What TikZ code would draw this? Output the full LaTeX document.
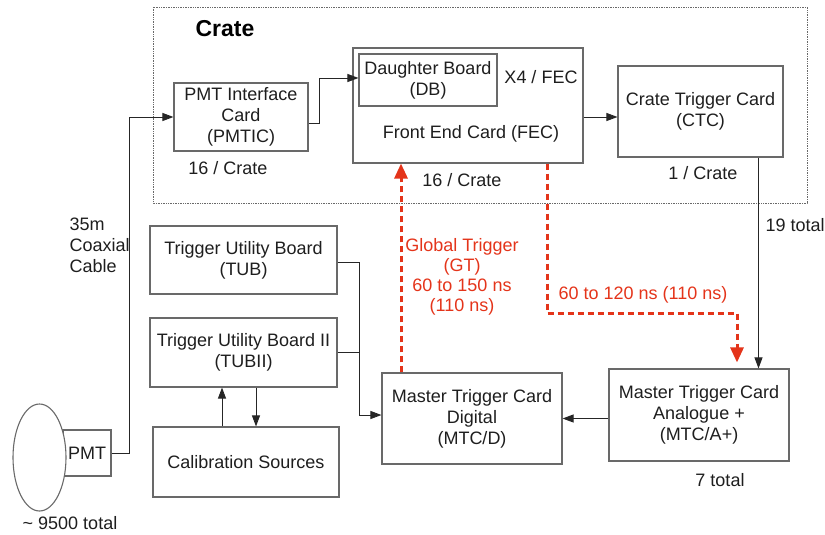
\documentclass[tikz,border=0pt]{standalone}
\usepackage{fontspec}
\setmainfont{Liberation Sans}
\usepackage{tikz}
\usetikzlibrary{arrows.meta,shapes.geometric}

\definecolor{trigred}{RGB}{228,52,26}
\definecolor{boxgray}{RGB}{105,105,105}
\definecolor{inkgray}{RGB}{30,30,30}

\begin{document}
\begin{tikzpicture}[x=1pt,y=-1pt,
    every node/.style={font=\fontsize{18}{21}\selectfont, text=inkgray},
    card/.style={draw=boxgray, line width=1.1pt, align=center, inner sep=0pt},
    wire/.style={draw=black!85, line width=0.9pt, -{Triangle[width=8pt,length=11pt]}},
    trigwire/.style={draw=trigred, line width=3pt, dash pattern=on 6pt off 4pt,
                     -{Triangle[width=13pt,length=15pt]}},
    trigtext/.style={text=trigred, align=center}]

  \useasboundingbox (0,0) rectangle (825,535);

  %%%%%%%%%%%%%%%%%%%%%%%%%%%%%%%%%%%%%%%%%%%%%%%%%%%%%%%%%%%%%%%%%%%%%%%%%%%%
  %% The crate and its cards
  %%%%%%%%%%%%%%%%%%%%%%%%%%%%%%%%%%%%%%%%%%%%%%%%%%%%%%%%%%%%%%%%%%%%%%%%%%%%

  % Dotted outline of the crate
  \draw [boxgray, densely dotted, line width=0.7pt] (153,7) rectangle (807,203);
  \node [font=\fontsize{23}{26}\bfseries, text=black] (cratelabel) at (225,29) {Crate};

  \node [card, minimum width=134, minimum height=68] (pmtic) at (241,117)
    {PMT Interface\\Card\\(PMTIC)};
  \node [card, minimum width=230, minimum height=115] (fec) at (468,105.5) {};
  \node [card, minimum width=138, minimum height=52] (db) at (428,80)
    {Daughter Board\\(DB)};
  \node (fectext) at (471,134) {Front End Card (FEC)};
  \node [card, minimum width=165, minimum height=91] (ctc) at (700.5,111.5)
    {Crate Trigger Card\\(CTC)};

  %%%%%%%%%%%%%%%%%%%%%%%%%%%%%%%%%%%%%%%%%%%%%%%%%%%%%%%%%%%%%%%%%%%%%%%%%%%%
  %% Trigger cards and utility boards
  %%%%%%%%%%%%%%%%%%%%%%%%%%%%%%%%%%%%%%%%%%%%%%%%%%%%%%%%%%%%%%%%%%%%%%%%%%%%

  \node [card, minimum width=180, minimum height=92] (mtca) at (699,415)
    {Master Trigger Card\\Analogue +\\(MTC/A+)};
  \node [card, minimum width=180, minimum height=91] (mtcd) at (472,418.5)
    {Master Trigger Card\\Digital\\(MTC/D)};
  \node [card, minimum width=187, minimum height=68] (tub) at (243.5,260)
    {Trigger Utility Board\\(TUB)};
  \node [card, minimum width=187, minimum height=69] (tubii) at (243.5,352.5)
    {Trigger Utility Board II\\(TUBII)};
  \node [card, minimum width=186, minimum height=70] (cal) at (246,462)
    {Calibration Sources};

  % The PMT: box first, the white bulb covers its left edge
  \node [card, minimum width=48, minimum height=46] (pmt) at (87,453) {PMT};
  \node [ellipse, draw=boxgray, line width=1.1pt, fill=white, inner sep=0pt,
         minimum width=53, minimum height=107] (pmtbulb) at (39.5,457.5) {};

  % Counts written beside the cards
  \foreach \name/\pos/\txt in {pmticcount/{(228,168)}/{16 / Crate},
                               feccount/{(462,180)}/{16 / Crate},
                               ctccount/{(703,173)}/{1 / Crate},
                               dbcount/{(541,77)}/{X4 / FEC},
                               mtcacount/{(720,480)}/{7 total},
                               pmtcount/{(70,523)}/{\textasciitilde{} 9500 total}}
    \node (\name) at \pos {\txt};
  \node [anchor=west] (ctctotal) at (762,225) {19 total};
  \node [anchor=west, align=left] (coaxlabel) at (66,245.5) {35m\\Coaxial\\Cable};

  %%%%%%%%%%%%%%%%%%%%%%%%%%%%%%%%%%%%%%%%%%%%%%%%%%%%%%%%%%%%%%%%%%%%%%%%%%%%
  %% Connections
  %%%%%%%%%%%%%%%%%%%%%%%%%%%%%%%%%%%%%%%%%%%%%%%%%%%%%%%%%%%%%%%%%%%%%%%%%%%%

  \draw [wire] (pmt.east) -- ++(18,0) |- (pmtic.west);
  \draw [wire] ([yshift=-6pt]pmtic.east) -- ++(11,0) |- ([yshift=2pt]db.west);
  \draw [wire] ([yshift=-11.5pt]fec.east) -- ([yshift=-5.5pt]ctc.west);
  \draw [wire] ([xshift=58pt]ctc.south) -- ([xshift=58pt]ctc.south |- mtca.north);
  \draw [wire] (mtca.west |- mtcd.east) -- (mtcd.east);

  % Both utility boards feed the digital card
  \draw [wire] ([yshift=-2pt]tub.east) -- ++(22,0) |- ([yshift=3.5pt]mtcd.west);
  \draw [draw=black!85, line width=0.9pt] (tubii.east) -- ++(22,0);

  \draw [wire] ([xshift=-24pt]cal.north) -- ([xshift=-24pt]cal.north |- tubii.south);
  \draw [wire] ([xshift=12.5pt]tubii.south) -- ([xshift=12.5pt]tubii.south |- cal.north);

  % Global trigger paths
  \draw [trigwire] ([xshift=-71pt]mtcd.north) -- ([xshift=-71pt]mtcd.north |- fec.south);
  \coordinate (gtbend) at (737,313);
  \draw [trigwire, shorten >=6pt] ([xshift=79pt]fec.south) |- (gtbend) -- (gtbend |- mtca.north);

  \node [trigtext, font=\fontsize{18}{20}\selectfont] (gtlabel) at (462,277)
    {Global Trigger\\(GT)\\60 to 150 ns\\(110 ns)};
  \node [trigtext] (gtdelay) at (643,295) {60 to 120 ns (110 ns)};

\end{tikzpicture}
\end{document}
